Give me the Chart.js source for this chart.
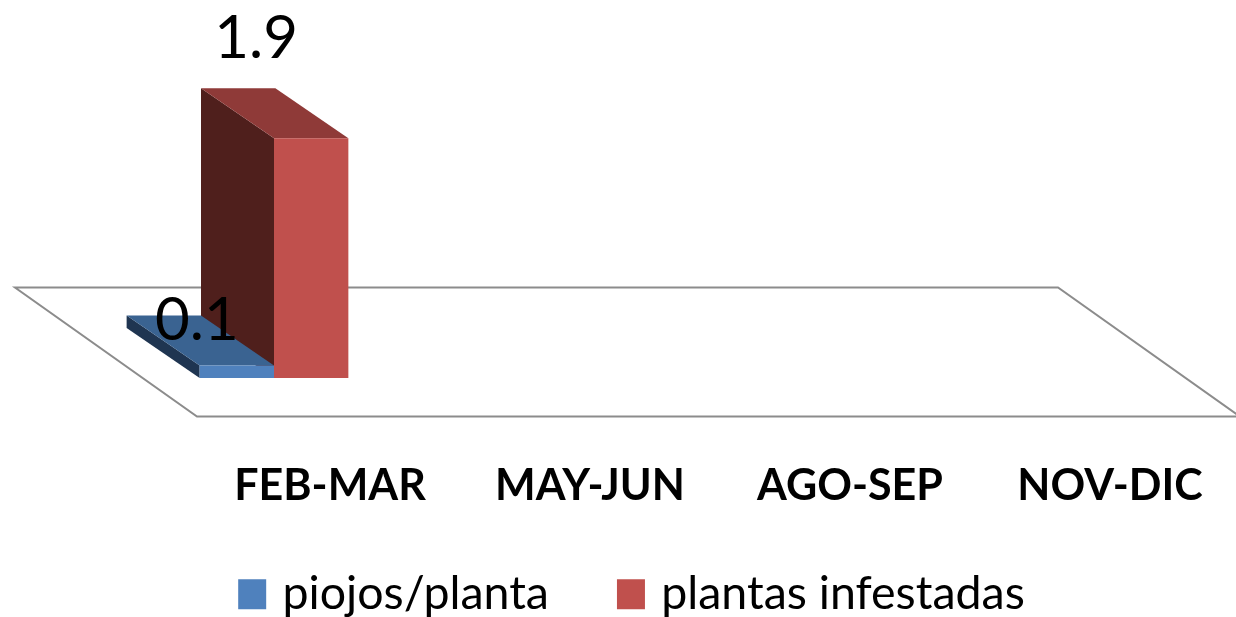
<!DOCTYPE html>
<html><head><meta charset="utf-8">
<style>html,body{margin:0;padding:0;background:#fff}canvas{display:block;filter:blur(0.6px)}</style>
<script src="https://cdn.jsdelivr.net/npm/chart.js@4"></script>
</head><body>
<canvas id="c" width="1236" height="617"></canvas>
<script>
const categories = ['FEB-MAR','MAY-JUN','AGO-SEP','NOV-DIC'];
const piojosPlanta = [0.1,null,null,null];
const plantasInfestadas = [1.9,null,null,null];
const DX = -73, DY = -50;
const FONT = 'Lato, Carlito, "Open Sans", sans-serif';

function poly(ctx, pts, fill){
  ctx.beginPath();
  pts.forEach((p,i)=> i?ctx.lineTo(p[0],p[1]):ctx.moveTo(p[0],p[1]));
  ctx.closePath();
  ctx.fillStyle = fill; ctx.fill();
}
const shades = [{top:'#3A6391',side:'#1F3551'},{top:'#8F3A38',side:'#4F1F1C'}];
const labelShift = [{x:-40,y:-45},{x:-55,y:-99}];

const bar3d = {
  id:'bar3d',
  beforeDatasetsDraw(chart){
    const ctx = chart.ctx, a = chart.chartArea, zero = chart.scales.y.getPixelForValue(0);
    const fy = zero + 38.5, by = fy - 129;
    const fx0 = a.left + 53, fx1 = a.right + 56;
    ctx.save();
    ctx.beginPath();
    ctx.moveTo(fx0,fy); ctx.lineTo(fx1,fy); ctx.lineTo(fx1-182,by); ctx.lineTo(fx0-182,by); ctx.closePath();
    ctx.fillStyle='#fff'; ctx.fill();
    ctx.strokeStyle='#8c8c8c'; ctx.lineWidth=2; ctx.stroke();
    [1,0].forEach(ds=>{
      chart.getDatasetMeta(ds).data.forEach((b,i)=>{
        if(chart.data.datasets[ds].data[i]==null) return;
        const l=b.x-b.width/2, r=b.x+b.width/2, t=b.y, bt=b.base;
        poly(ctx,[[l,t],[l+DX,t+DY],[l+DX,bt+DY],[l,bt]],shades[ds].side);
        poly(ctx,[[l,t],[r,t],[r+DX,t+DY],[l+DX,t+DY]],shades[ds].top);
      });
    });
    ctx.restore();
  },
  afterDatasetsDraw(chart){
    const ctx = chart.ctx;
    ctx.save();
    ctx.fillStyle='#000'; ctx.textAlign='center'; ctx.textBaseline='middle';
    ctx.font='60px '+FONT;
    [1,0].forEach(ds=>{
      chart.getDatasetMeta(ds).data.forEach((b,i)=>{
        const v = chart.data.datasets[ds].data[i];
        if(v==null) return;
        ctx.fillText(v.toFixed(1), b.x+labelShift[ds].x, b.y+labelShift[ds].y);
      });
    });
    ctx.restore();
  },
  afterLayout(chart){
    chart.legend.left -= 29; chart.legend.right -= 29;
    chart.scales.x.bottom += 40; // keep the tick labels outside the axis label clip
  }
};

new Chart(document.getElementById('c'),{
  type:'bar',
  data:{labels:categories,datasets:[
    {label:'piojos/planta',data:piojosPlanta,backgroundColor:'#4F81BD',borderWidth:0},
    {label:'plantas infestadas',data:plantasInfestadas,backgroundColor:'#C0504D',borderWidth:0}
  ]},
  options:{
    responsive:false,animation:false,
    layout:{padding:{left:144,right:52,top:125.5,bottom:0}},
    datasets:{bar:{categoryPercentage:0.572,barPercentage:1}},
    plugins:{
      tooltip:{enabled:false},
      legend:{position:'bottom',maxHeight:121,labels:{
        color:'#000',font:{family:FONT,size:46.5},boxWidth:14,boxHeight:16,padding:75,
        generateLabels(chart){
          const items = Chart.defaults.plugins.legend.labels.generateLabels(chart);
          items.forEach(it=>{it.lineWidth=14;it.strokeStyle=it.fillStyle;});
          return items;
        }
      }}
    },
    scales:{
      x:{grid:{display:false},border:{display:false},
        afterFit(s){s.height=118;},
        ticks:{color:'#000',font:{family:FONT,size:43,weight:'bold'},padding:74,labelOffset:56,maxRotation:0,autoSkip:false}},
      y:{display:false,min:0,max:2}
    }
  },
  plugins:[bar3d]
});
</script>
</body></html>
